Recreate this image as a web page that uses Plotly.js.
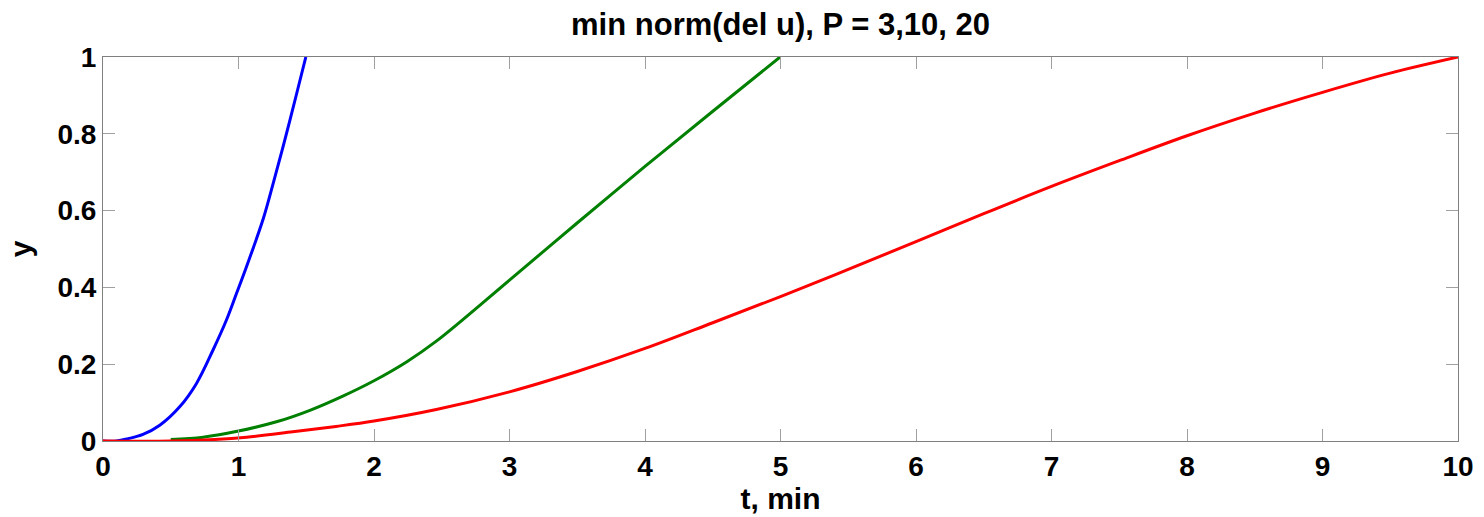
<!DOCTYPE html>
<html>
<head>
<meta charset="utf-8">
<script src="https://cdn.plot.ly/plotly-3.0.1.min.js"></script>
<style>html,body{margin:0;padding:0;background:#fff;}#chart{width:1484px;height:517px;}</style>
</head>
<body>
<div id="chart"></div>
<script>
// P = 3 (blue)
var tBlue = [0, 0.1, 0.185, 0.295, 0.419, 0.566, 0.69, 0.812, 0.911, 0.985, 1.059, 1.182, 1.256, 1.342, 1.428, 1.497];
var yBlue = [0, 0, 0.006, 0.017, 0.041, 0.089, 0.150, 0.237, 0.315, 0.384, 0.454, 0.578, 0.671, 0.784, 0.903, 1.0];
// P = 10 (green)
var tGreen = [0.5, 0.739, 1.0, 1.28, 1.527, 1.77, 2.0, 2.24, 2.46, 3.0, 3.497, 4.0, 4.505, 4.997];
var yGreen = [0.004, 0.010, 0.026, 0.050, 0.080, 0.117, 0.157, 0.206, 0.260, 0.419, 0.567, 0.715, 0.860, 1.0];
// P = 20 (red)
var tRed = [0, 0.5, 0.825, 1.06, 1.40, 1.72, 2.0, 2.46, 3.0, 3.5, 4.0, 4.5, 5.0, 5.5, 6.0, 6.5, 7.0, 7.5, 8.0, 8.5, 9.0, 9.5, 10.0];
var yRed = [0, 0, 0.004, 0.010, 0.024, 0.038, 0.052, 0.082, 0.128, 0.181, 0.241, 0.308, 0.376, 0.447, 0.519, 0.592, 0.663, 0.730, 0.795, 0.854, 0.908, 0.958, 1.0];

var xTicks = [0,1,2,3,4,5,6,7,8,9,10];
var yTicks = [0,0.2,0.4,0.6,0.8,1];
var yTickText = ['0','0.2','0.4','0.6','0.8','1'];

var FONT = 'Liberation Sans, Arial, sans-serif';

function trace(x, y, color) {
  return {x: x, y: y, type: 'scatter', mode: 'lines',
    line: {color: color, width: 3, shape: 'spline', smoothing: 1},
    hoverinfo: 'skip', showlegend: false};
}

var data = [
  trace(tBlue, yBlue, '#0000ff'),
  trace(tGreen, yGreen, '#008000'),
  trace(tRed, yRed, '#ff0000')
];

var axisCommon = {
  showgrid: false, zeroline: false, showline: true, mirror: 'ticks',
  linecolor: '#808080', linewidth: 1,
  ticks: 'inside', ticklen: 12, tickcolor: '#a0a0a0', tickwidth: 1,
  tickfont: {family: FONT, size: 28, color: '#000', weight: 'bold'}
};

var layout = {
  width: 1484, height: 517,
  paper_bgcolor: '#fff', plot_bgcolor: '#fff',
  margin: {l: 103, r: 26, t: 57, b: 76},
  title: {text: '<b>min norm(del u), P = 3,10, 20</b>', x: 0.5, xref: 'paper', xanchor: 'center', y: 0.953, yanchor: 'middle',
    font: {family: FONT, size: 31, color: '#000'}},
  xaxis: Object.assign({}, axisCommon, {
    range: [0, 10], tickvals: xTicks, ticktext: xTicks.map(String),
    title: {text: '<b>t, min</b>', font: {family: FONT, size: 30, color: '#000'}, standoff: 2}
  }),
  yaxis: Object.assign({}, axisCommon, {
    range: [0, 1], tickvals: yTicks, ticktext: yTickText,
    title: {text: '<b>y</b>', font: {family: FONT, size: 30, color: '#000'}, standoff: 16}
  })
};

Plotly.newPlot('chart', data, layout, {staticPlot: true, displayModeBar: false});
</script>
</body>
</html>
